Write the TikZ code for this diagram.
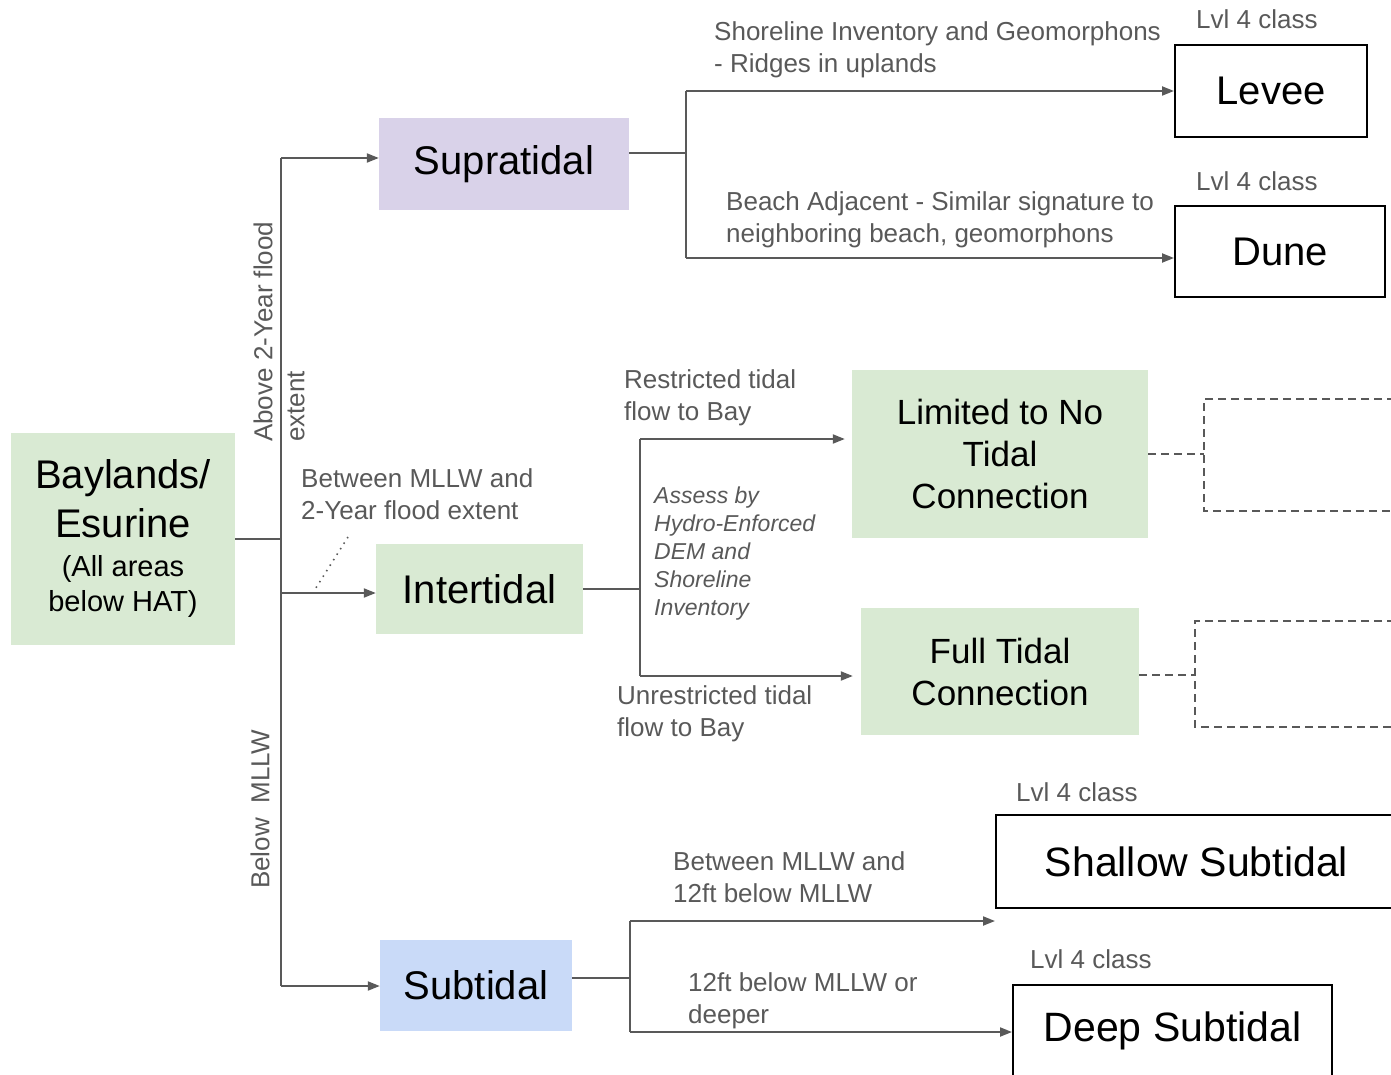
\documentclass[tikz,border=0pt]{standalone}
\usepackage{fontspec}
\setmainfont{Liberation Sans}
\usetikzlibrary{arrows.meta}
\definecolor{boxgreen}{HTML}{D9EAD3}
\definecolor{boxpurple}{HTML}{D9D2E9}
\definecolor{boxblue}{HTML}{C9DAF8}
\definecolor{linegray}{HTML}{595959}

\begin{document}
\begin{tikzpicture}[x=1pt,y=-1pt,
    level/.style={inner sep=0pt,align=center,font=\fontsize{40}{49}\selectfont},
    classbox/.style={level,draw=black,line width=2pt},
    note/.style={text=linegray,align=left,inner sep=0pt,font=\fontsize{26}{32}\selectfont},
    link/.style={draw=linegray,line width=2pt},
    arr/.style={link,-{Triangle[length=12pt,width=9pt]}},
    pend/.style={draw=linegray,line width=1.6pt,dash pattern=on 8pt off 5pt}]
    \useasboundingbox (0,0) rectangle (1391,1075);
    \clip (0,0) rectangle (1391,1075);

    \node[level,fill=boxgreen,minimum width=224pt,minimum height=212pt] (bay) at (123,539)
        {Baylands/\\Esurine\\[-10pt]\fontsize{29}{34}\selectfont(All areas\\[-14pt]\fontsize{29}{34}\selectfont below HAT)};
    \node[level,fill=boxpurple,minimum width=250pt,minimum height=92pt] (supra) at (504,164) {Supratidal};
    \node[level,fill=boxgreen,minimum width=207pt,minimum height=90pt] (inter) at (479.5,589) {Intertidal};
    \node[level,fill=boxblue,minimum width=192pt,minimum height=91pt] (sub) at (476,985.5) {Subtidal};

    \node[classbox,minimum width=192pt,minimum height=92pt] (levee) at (1271,91) {Levee};
    \node[classbox,minimum width=210pt,minimum height=91pt] (dune) at (1280,251.5) {Dune};
    \node[level,fill=boxgreen,font=\fontsize{35}{42}\selectfont,minimum width=296pt,minimum height=168pt] (lim) at (1000,454)
        {Limited to No\\Tidal\\Connection};
    \node[level,fill=boxgreen,font=\fontsize{35}{42}\selectfont,minimum width=278pt,minimum height=127pt] (full) at (1000,671.5)
        {Full Tidal\\Connection};
    \node[classbox,font=\fontsize{41}{48}\selectfont,minimum width=401pt,minimum height=93pt] (shallow) at (1196.5,861.5) {Shallow Subtidal};
    \node[classbox,font=\fontsize{41}{48}\selectfont,minimum width=319pt,minimum height=92pt] (deep) at (1172.5,1031) {Deep Subtidal};

    \node[note,anchor=west] (lvlA) at (1196,19) {Lvl 4 class};
    \node[note,anchor=west] (lvlB) at (1196,181) {Lvl 4 class};
    \node[note,anchor=west] (lvlC) at (1016,792) {Lvl 4 class};
    \node[note,anchor=west] (lvlD) at (1030,959) {Lvl 4 class};

    \node[note,rotate=90,anchor=west] (above) at (279,442) {Above 2-Year flood\\extent};
    \node[note,rotate=90,anchor=west] (below) at (260,889) {Below\ \ MLLW};
    \node[note,anchor=west] (between) at (301,494) {Between MLLW and\\2-Year flood extent};
    \node[note,anchor=west] (shore) at (714,50) {Shoreline Inventory and Geomorphons\\- Ridges in uplands};
    \node[note,anchor=west] (beach) at (726,220) {Beach Adjacent - Similar signature to\\neighboring beach, geomorphons};
    \node[note,anchor=west] (restr) at (624,398) {Restricted tidal\\flow to Bay};
    \node[note,anchor=west] (unrestr) at (617,714) {Unrestricted tidal\\flow to Bay};
    \node[note,anchor=west,font=\fontsize{23}{28}\selectfont\itshape] (assess) at (654,554)
        {Assess by\\Hydro-Enforced\\DEM and\\Shoreline\\Inventory};
    \node[note,anchor=west] (shallowtxt) at (673,877) {Between MLLW and\\12ft below MLLW};
    \node[note,anchor=west] (deeptxt) at (688,1001) {12ft below MLLW or\\deeper};

    \coordinate (jA) at (281,539);   \coordinate (tTop) at (281,158);
    \coordinate (tMid) at (281,593); \coordinate (tBot) at (281,986);
    \coordinate (sJ) at (686,153);   \coordinate (sTop) at (686,91);  \coordinate (sBot) at (686,258);
    \coordinate (iJ) at (640,589);   \coordinate (iTop) at (640,439); \coordinate (iBot) at (640,676);
    \coordinate (uJ) at (630,978);   \coordinate (uTop) at (630,921); \coordinate (uBot) at (630,1032);
    \coordinate (dotA) at (348,537); \coordinate (dotB) at (314,591);
    \coordinate (penA) at (1204,454); \coordinate (penB) at (1195,675);

    \draw[link] (bay.east |- jA) -- (jA);
    \draw[link] (tTop) -- (tBot);
    \draw[arr] (tTop) -- (tTop -| supra.west);
    \draw[arr] (tMid) -- (tMid -| inter.west);
    \draw[arr] (tBot) -- (tBot -| sub.west);

    \draw[link] (sJ -| supra.east) -- (sJ);
    \draw[link] (sTop) -- (sBot);
    \draw[arr] (sTop) -- (levee.west);
    \draw[arr] (sBot) -- (sBot -| dune.west);

    \draw[link] (inter.east) -- (iJ);
    \draw[link] (iTop) -- (iBot);
    \draw[arr,shorten >=7pt] (iTop) -- (iTop -| lim.west);
    \draw[arr,shorten >=8pt] (iBot) -- (iBot -| full.west);

    \draw[link] (uJ -| sub.east) -- (uJ);
    \draw[link] (uTop) -- (uBot);
    \draw[arr] (uTop) -- (uTop -| shallow.west);
    \draw[arr] (uBot) -- (uBot -| deep.west);

    \draw[draw=linegray,line width=1.6pt,dash pattern=on 1.5pt off 5pt] (dotA) -- (dotB);

    \draw[pend] (penA -| lim.east) -- (penA);
    \draw[pend] (1395,399) -- (1204,399) -- (1204,511) -- (1395,511);
    \draw[pend] (penB -| full.east) -- (penB);
    \draw[pend] (1395,621) -- (1195,621) -- (1195,727) -- (1395,727);
\end{tikzpicture}
\end{document}
